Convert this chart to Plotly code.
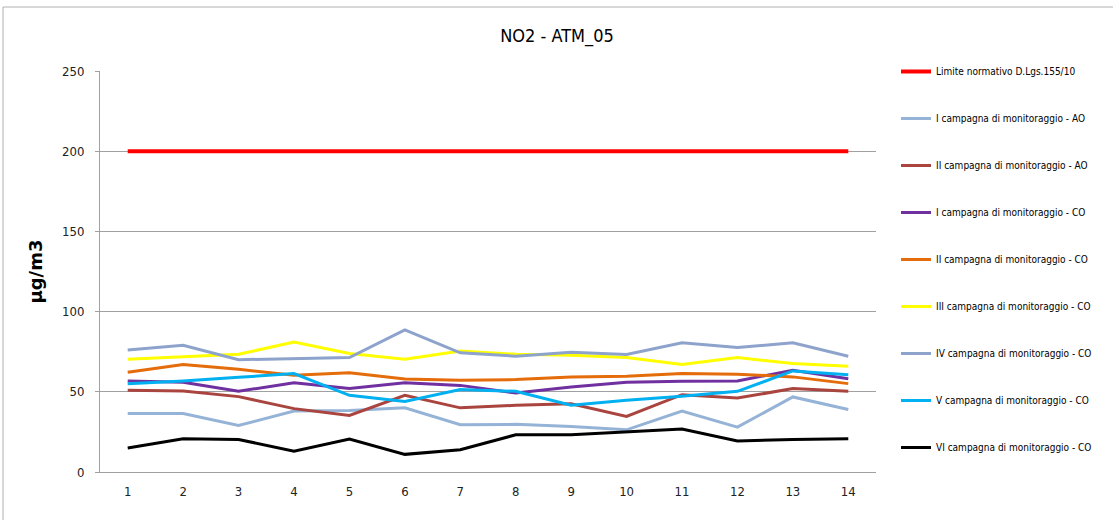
import plotly.graph_objects as go

# Sampling points (1..14) and concentrations in µg/m3
points = list(range(1, 15))

limite = [200] * 14
i_ao = [36.5, 36.4, 29, 38, 38.4, 40, 29.5, 29.7, 28.4, 26.3, 38, 28, 46.8, 39]
ii_ao = [51, 50.5, 47, 39.5, 35.3, 47.8, 40, 41.6, 42.6, 34.7, 48.2, 46.1, 52, 50.3]
i_co = [56.8, 56, 50.3, 55.7, 52, 55.7, 54, 49.3, 53, 56, 56.6, 56.8, 63.4, 58.2]
ii_co = [62.2, 67, 64, 60.3, 61.8, 58, 57.2, 57.6, 59.3, 59.7, 61.4, 61, 59.3, 55.1]
iii_co = [70.3, 72, 73.4, 81, 73.9, 70.3, 75.5, 73.4, 72.8, 71.4, 67, 71.4, 67.6, 66]
iv_co = [76, 79, 70, 70.7, 71.4, 88.6, 74.3, 72.2, 74.7, 73.2, 80.5, 77.6, 80.5, 72.2]
v_co = [55, 56.7, 59, 61.4, 47.8, 44, 51.4, 50.3, 41.6, 44.7, 47.2, 50.3, 63, 60.7]
vi_co = [15, 20.7, 20.3, 13, 20.5, 11, 13.9, 23.2, 23.2, 24.9, 26.8, 19.3, 20.3, 20.7]

series = [
    ("Limite normativo D.Lgs.155/10", limite, "#FF0000", 4),
    ("I campagna di monitoraggio - AO", i_ao, "#95B3D7", 3),
    ("II campagna di monitoraggio - AO", ii_ao, "#A9443F", 3),
    ("I campagna di monitoraggio - CO", i_co, "#7030A0", 3),
    ("II campagna di monitoraggio - CO", ii_co, "#E46C0A", 3),
    ("III campagna di monitoraggio - CO", iii_co, "#FFFF00", 3),
    ("IV campagna di monitoraggio - CO", iv_co, "#8DA3CC", 3),
    ("V campagna di monitoraggio - CO", v_co, "#00B0F0", 3),
    ("VI campagna di monitoraggio - CO", vi_co, "#000000", 3),
]

narrow = "Liberation Sans Narrow, DejaVu Sans Condensed, Arial Narrow, sans-serif"

fig = go.Figure()
for i, (name, vals, color, w) in enumerate(series):
    fig.add_trace(go.Scatter(
        x=points, y=vals, name=name, mode="lines",
        line=dict(color=color, width=w),
        legendgroup=f"g{i}",
    ))

W, H = 1113, 520
L, R, T, B = 100, 237, 71, 48
pw, ph = W - L - R, H - T - B

fig.update_layout(
    width=W, height=H,
    margin=dict(l=L, r=R, t=T, b=B),
    paper_bgcolor="white", plot_bgcolor="white",
    title=dict(text="NO2 - ATM_05", x=557 / W, xanchor="center",
               y=1 - 36 / H, yanchor="middle",
               font=dict(family=narrow, size=18, color="#000000")),
    showlegend=True,
    legend=dict(x=(896 - L) / pw, xanchor="left", y=1 + 14 / ph, yanchor="top",
                font=dict(family=narrow, size=10, color="#000000"),
                tracegroupgap=28, traceorder="grouped", maxheight=H,
                bgcolor="rgba(0,0,0,0)", itemwidth=30),
    xaxis=dict(range=[0.5, 14.5], tickmode="array", tickvals=points,
               ticktext=[str(p) for p in points], showgrid=False,
               showline=True, linecolor="#A0A0A0", linewidth=1,
               zeroline=False, ticks="", fixedrange=True, ticklabelstandoff=7,
               tickfont=dict(family=narrow, size=13, color="#222222")),
    yaxis=dict(range=[0, 250], tickvals=[0, 50, 100, 150, 200, 250],
               showgrid=True, gridcolor="#A0A0A0", gridwidth=1,
               showline=True, linecolor="#A0A0A0", linewidth=1,
               zeroline=False, ticks="outside", ticklen=4, tickcolor="#A0A0A0",
               ticklabelstandoff=8,
               tickfont=dict(family=narrow, size=13, color="#222222"),
               title=dict(text="μg/m3", standoff=14,
                          font=dict(family="DejaVu Sans, sans-serif", size=18,
                                    color="#000000", weight="bold"))),
    shapes=[dict(type="rect", xref="paper", yref="paper",
                 x0=(3 - L) / pw, x1=(W + 10 - L) / pw,
                 y0=-(B + 10) / ph, y1=1 + (T - 7) / ph,
                 line=dict(color="#B0B0B0", width=1), layer="below")],
)

fig.write_html("out.html")
